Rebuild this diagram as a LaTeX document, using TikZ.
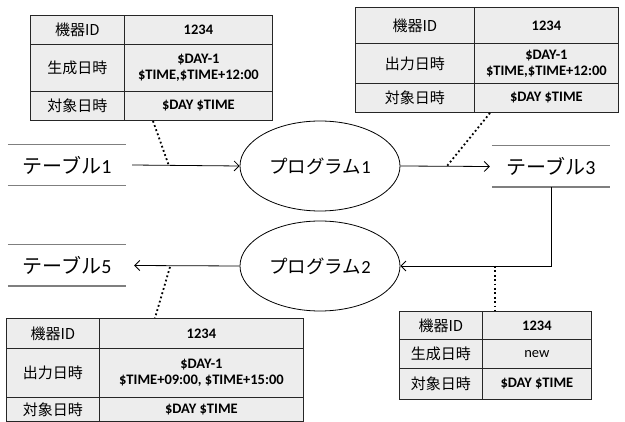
\documentclass[tikz,border=0pt]{standalone}
\usepackage{fontspec}
\setmainfont{Carlito}
\newfontfamily\jp{Noto Sans CJK JP}
\usetikzlibrary{shapes.geometric,arrows.meta}
\definecolor{cellgray}{HTML}{EDEDED}
\definecolor{rulegray}{HTML}{7F7F7F}
\begin{document}
\begin{tikzpicture}[x=1pt,y=-1pt,
  cell/.style={draw=black!85,fill=cellgray,line width=0.8pt,anchor=north west,inner sep=0pt,align=center},
  lab/.style={cell,font=\jp\fontsize{15}{17}\selectfont},
  val/.style={cell,font=\bfseries\fontsize{14.5}{16}\selectfont},
  plain/.style={cell,font=\fontsize{14.5}{16}\selectfont},
  tbl/.style={minimum width=118pt,minimum height=41pt,inner sep=0pt,font=\fontsize{20}{22}\selectfont},
  tblrule/.style={draw=rulegray,line width=1.4pt},
  prog/.style={ellipse,draw,line width=0.8pt,minimum width=160pt,minimum height=90pt,inner sep=0pt,font=\fontsize{18.5}{22}\selectfont},
  arr/.style={line width=0.8pt,-{Straight Barb[length=5pt,width=10pt]}},
  link/.style={line width=1.8pt,dash pattern=on 1.8pt off 2.6pt}
]
\useasboundingbox (0,0) rectangle (625,422);

% table 1 (top left)
\node[lab,minimum width=94pt,minimum height=29pt] (t1a) at (30,15) {機器ID};
\node[val,minimum width=148pt,minimum height=29pt] (t1b) at (124,15) {1234};
\node[lab,minimum width=94pt,minimum height=47pt] (t1c) at (30,44) {生成日時};
\node[val,minimum width=148pt,minimum height=47pt] (t1d) at (124,44) {\$DAY-1\\\$TIME,\$TIME+12:00};
\node[lab,minimum width=94pt,minimum height=29pt] (t1e) at (30,91) {対象日時};
\node[val,minimum width=148pt,minimum height=29pt] (t1f) at (124,91) {\$DAY \$TIME};

% table 2 (top right)
\node[lab,minimum width=119pt,minimum height=36pt] (t2a) at (355,7) {機器ID};
\node[val,minimum width=144pt,minimum height=36pt] (t2b) at (474,7) {1234};
\node[lab,minimum width=119pt,minimum height=40pt] (t2c) at (355,43) {出力日時};
\node[val,minimum width=144pt,minimum height=40pt] (t2d) at (474,43) {\$DAY-1\\\$TIME,\$TIME+12:00};
\node[lab,minimum width=119pt,minimum height=29pt] (t2e) at (355,83) {対象日時};
\node[val,minimum width=144pt,minimum height=29pt] (t2f) at (474,83) {\$DAY \$TIME};

% table 4 (bottom right)
\node[lab,minimum width=83pt,minimum height=28pt] (t4a) at (399,311) {機器ID};
\node[val,minimum width=109pt,minimum height=28pt] (t4b) at (482,311) {1234};
\node[lab,minimum width=83pt,minimum height=29pt] (t4c) at (399,339) {生成日時};
\node[plain,minimum width=109pt,minimum height=29pt] (t4d) at (482,339) {new};
\node[lab,minimum width=83pt,minimum height=31pt] (t4e) at (399,368) {対象日時};
\node[val,minimum width=109pt,minimum height=31pt] (t4f) at (482,368) {\$DAY \$TIME};

% table 5 (bottom left)
\node[lab,minimum width=93pt,minimum height=30pt] (t5a) at (6,318) {機器ID};
\node[val,minimum width=204pt,minimum height=30pt] (t5b) at (99,318) {1234};
\node[lab,minimum width=93pt,minimum height=49pt] (t5c) at (6,348) {出力日時};
\node[val,minimum width=204pt,minimum height=49pt] (t5d) at (99,348) {\$DAY-1\\\$TIME+09:00, \$TIME+15:00};
\node[lab,minimum width=93pt,minimum height=24pt] (t5e) at (6,397) {対象日時};
\node[val,minimum width=204pt,minimum height=24pt] (t5f) at (99,397) {\$DAY \$TIME};

% data stores
\node[tbl] (tb1) at (67,165) {{\jp テーブル}1};
\node[tbl] (tb3) at (551,166.5) {{\jp テーブル}3};
\node[tbl] (tb5) at (67,265.5) {{\jp テーブル}5};
\foreach \n in {tb1,tb3,tb5}{
  \draw[tblrule] (\n.north west) -- (\n.north east);
  \draw[tblrule] (\n.south west) -- (\n.south east);
}

% programs
\node[prog] (p1) at (320,166) {{\jp プログラム}1};
\node[prog] (p2) at (320,266) {{\jp プログラム}2};

% flows
\draw[arr] ([xshift=6pt]tb1.east) -- (p1.west);
\draw[arr] (p1.east) -- ([xshift=-2pt]tb3.west);
\draw[arr] (tb3.south) |- (p2.east);
\draw[arr] (p2.west) -- ([xshift=8pt]tb5.east);

% dotted links
\coordinate (d1a) at (153,121);
\coordinate (d1b) at (169,166);
\coordinate (d2a) at (490,113);
\coordinate (d2b) at (447,166);
\coordinate (d4a) at (495,266);
\coordinate (d5a) at (170,267);
\draw[link] (d1a) -- (d1b);
\draw[link] (d2a) -- (d2b);
\draw[link] (d4a) -- (d4a |- t4a.north);
\draw[link] (d5a) -- (t5b.north west -| 155,0);
\end{tikzpicture}
\end{document}
